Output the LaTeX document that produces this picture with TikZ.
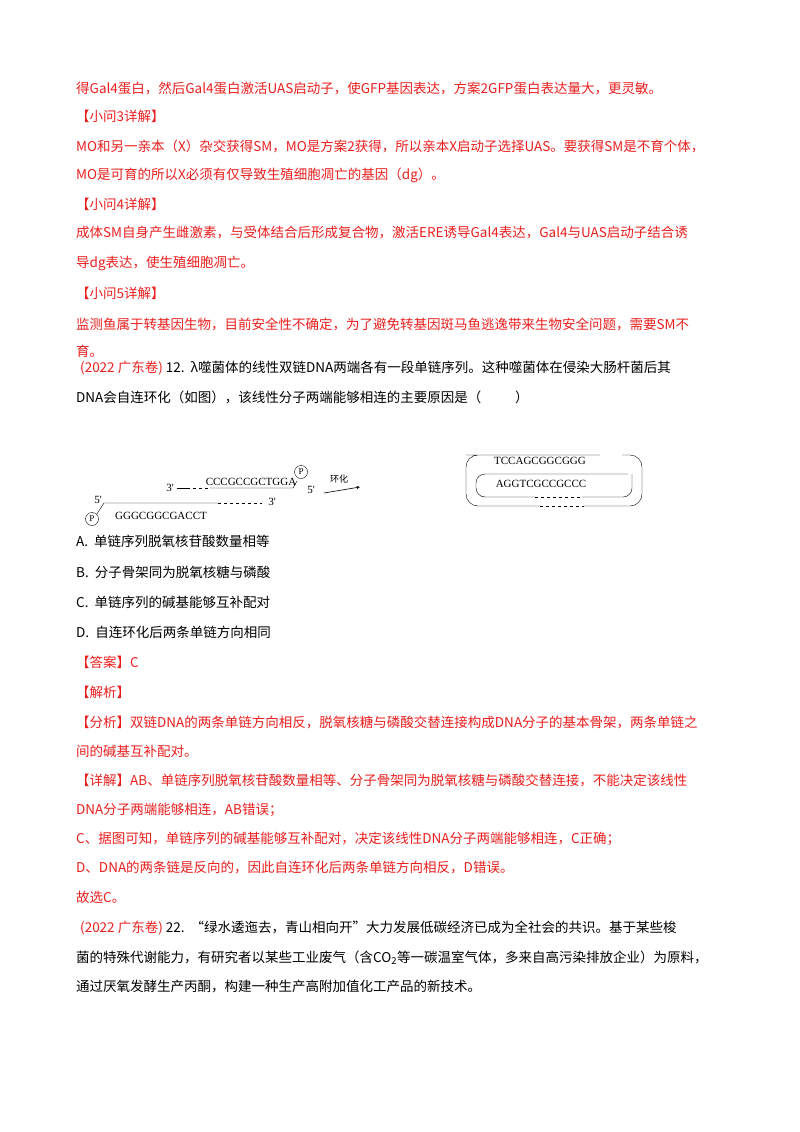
\documentclass[tikz,border=0pt]{standalone}
\usepackage{fontspec}
\setmainfont{Noto Sans CJK SC}
\newfontfamily\seqfont{Liberation Serif}
\definecolor{ansred}{RGB}{235,30,30}
\tikzset{line/.style={anchor=west, inner sep=0pt, font=\fontsize{13.5}{14}\selectfont},
  red/.style={text=ansred},
  seq/.style={inner sep=0pt, font=\seqfont\fontsize{11}{11}\selectfont},
  phos/.style={draw, circle, minimum size=13pt, inner sep=0pt, font=\seqfont\fontsize{9}{9}\selectfont}}
\begin{document}
\begin{tikzpicture}[x=1pt,y=-1pt]
\useasboundingbox (0,0) rectangle (800,1132);
% answer text, upper part
\node[line,red] (l1) at (76,88) {得Gal4蛋白，然后Gal4蛋白激活UAS启动子，使GFP基因表达，方案2GFP蛋白表达量大，更灵敏。};
\node[line,red] (l2) at (76,116) {【小问3详解】};
\node[line,red] (l3) at (76,146) {MO和另一亲本（X）杂交获得SM，MO是方案2获得，所以亲本X启动子选择UAS。要获得SM是不育个体，};
\node[line,red] (l4) at (76,175) {MO是可育的所以X必须有仅导致生殖细胞凋亡的基因（dg）。};
\node[line,red] (l5) at (76,204) {【小问4详解】};
\node[line,red] (l6) at (76,233) {成体SM自身产生雌激素，与受体结合后形成复合物，激活ERE诱导Gal4表达，Gal4与UAS启动子结合诱};
\node[line,red] (l7) at (76,263) {导dg表达，使生殖细胞凋亡。};
\node[line,red] (l8) at (76,293) {【小问5详解】};
\node[line,red] (l9) at (76,324) {监测鱼属于转基因生物，目前安全性不确定，为了避免转基因斑马鱼逃逸带来生物安全问题，需要SM不};
\node[line,red] (l10) at (76,351) {育。};
\node[line] (q1) at (80,368) {\textcolor{ansred}{(2022 广东卷)} 12.\ \ λ噬菌体的线性双链DNA两端各有一段单链序列。这种噬菌体在侵染大肠杆菌后其};
\node[line] (q2) at (76,397) {DNA会自连环化（如图），该线性分子两端能够相连的主要原因是（\hspace{2.5em}）};
% linear molecule
\node[phos] (pl) at (92,519) {P};
\node[seq] (s5l) at (98,500) {5'};
\draw (pl.north east) -- (104,503) -- (218,503);
\draw[dashed] (218,503) -- (262,503);
\node[seq] (s3l) at (272,502) {3'};
\node[seq] (bl) at (161,516) {GGGCGGCGACCT};
\node[seq] (s3u) at (170,488) {3'};
\draw (177,488) -- (187,488);
\draw[dashed] (187,488) -- (210,488);
\draw (210,488) -- (293,488) -- (297,481);
\node[seq] (bu) at (251,482) {CCCGCCGCTGGA};
\node[phos] (pu) at (301,472) {P};
\node[seq] (s5u) at (311,490) {5'};
\node[inner sep=0pt, font=\fontsize{9}{9}\selectfont] (ring) at (339,479) {环化};
\draw[-stealth, semithick] (324,493) -- (360,487);
% circular molecule
\draw[rounded corners=12pt] (600,455) -- (478,455) -- (466,455) -- (466,506) -- (540,506);
\draw[dashed] (540,506) -- (584,506);
\draw[rounded corners=12pt] (584,506) -- (642,506) -- (642,455) -- (622,455);
\draw[rounded corners=9pt] (628,474) -- (476,474) -- (476,497) -- (535,497);
\draw[dashed] (535,497) -- (582,497);
\draw[rounded corners=9pt] (582,497) -- (632,497) -- (632,474);
\node[seq] (tr) at (540,461) {TCCAGCGGCGGG};
\node[seq] (br) at (541,484) {AGGTCGCCGCCC};
% options and answer
\node[line] (oa) at (76,541) {A.\ \ 单链序列脱氧核苷酸数量相等};
\node[line] (ob) at (76,572) {B.\ \ 分子骨架同为脱氧核糖与磷酸};
\node[line] (oc) at (76,602) {C.\ \ 单链序列的碱基能够互补配对};
\node[line] (od) at (76,632) {D.\ \ 自连环化后两条单链方向相同};
\node[line,red] (a1) at (76,662) {【答案】C};
\node[line,red] (a2) at (76,692) {【解析】};
\node[line,red] (a3) at (76,722) {【分析】双链DNA的两条单链方向相反，脱氧核糖与磷酸交替连接构成DNA分子的基本骨架，两条单链之};
\node[line,red] (a4) at (76,751) {间的碱基互补配对。};
\node[line,red] (a5) at (76,780) {【详解】AB、单链序列脱氧核苷酸数量相等、分子骨架同为脱氧核糖与磷酸交替连接，不能决定该线性};
\node[line,red] (a6) at (76,810) {DNA分子两端能够相连，AB错误；};
\node[line,red] (a7) at (76,839) {C、据图可知，单链序列的碱基能够互补配对，决定该线性DNA分子两端能够相连，C正确；};
\node[line,red] (a8) at (76,868) {D、DNA的两条链是反向的，因此自连环化后两条单链方向相反，D错误。};
\node[line,red] (a9) at (76,897) {故选C。};
\node[line] (n1) at (80,928) {\textcolor{ansred}{(2022 广东卷)} 22.\ \ “绿水逶迤去，青山相向开”大力发展低碳经济已成为全社会的共识。基于某些梭};
\node[line] (n2) at (76,958) {菌的特殊代谢能力，有研究者以某些工业废气（含CO\textsubscript{2}等一碳温室气体，多来自高污染排放企业）为原料，};
\node[line] (n3) at (76,987) {通过厌氧发酵生产丙酮，构建一种生产高附加值化工产品的新技术。};
\end{tikzpicture}
\end{document}
